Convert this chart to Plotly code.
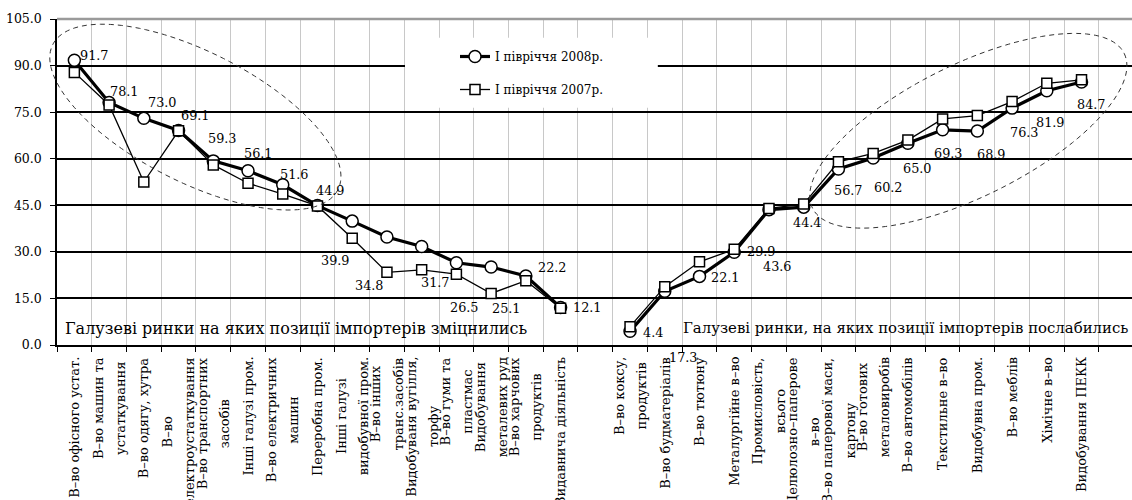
import numpy as np
import plotly.graph_objects as go

# ---------------- data ----------------
categories = [
    "В–во офісного устат.",
    "В–во машин та<br>устаткування",
    "В–во одягу, хутра",
    "В–во<br>електроустаткування",
    "В–во транспортних<br>засобів",
    "Інші галузі пром.",
    "В–во електричних<br>машин",
    "Переробна пром.",
    "Інші галузі<br>видобувної пром.",
    "В–во інших<br>транс.засобів",
    "Видобуваня вугілля,<br>торфу",
    "В–во гуми та<br>пластмас",
    "Видобування<br>металевих руд",
    "В–во харчових<br>продуктів",
    "Видавнича діяльність",
    "",
    "В–во коксу,<br>продуктів",
    "В–во будматеріалів",
    "В–во тютюну",
    "Металургійне в–во",
    "Промисловість,<br>всього",
    "Целюлозно–паперове<br>в–во",
    "В–во паперової маси,<br>картону",
    "В–во готових<br>металовиробів",
    "В–во автомобілів",
    "Текстильне в–во",
    "Видобувна пром.",
    "В–во меблів",
    "Хімічне в–во",
    "Видобування ПЕКК",
    "",
]

h1_2008 = [91.7, 78.1, 73.0, 69.1, 59.3, 56.1, 51.6, 44.9, 39.9, 34.8, 31.7, 26.5,
           25.1, 22.2, 12.1, None, 4.4, 17.3, 22.1, 29.9, 43.6, 44.4, 56.7, 60.2,
           65.0, 69.3, 68.9, 76.3, 81.9, 84.7, None]
h1_2007 = [87.8, 77.3, 52.5, 69.0, 58.0, 52.1, 48.6, 44.8, 34.4, 23.4, 24.2, 22.8,
           16.6, 20.7, 11.8, None, 5.9, 18.8, 26.8, 30.8, 44.0, 45.4, 59.0, 61.7,
           66.0, 72.8, 73.9, 78.4, 84.3, 85.4, None]

series_names = ["I півріччя 2008р.", "I півріччя 2007р."]
group_titles = ["Галузеві ринки на яких позиції імпортерів зміцнились",
                "Галузеві ринки, на яких позиції імпортерів послабились"]
y_ticks = [0, 15, 30, 45, 60, 75, 90, 105]

# ---------------- layout constants ----------------
W, H = 1132, 500
ML, MR, MT, MB = 57, 0, 19, 155
PW, PH = W - ML - MR, H - MT - MB
X_RANGE = [-0.5, -0.5 + PW / 34.73]
Y_RANGE = [0, 105]
FONT = "DejaVu Serif"

# label offsets (px) for the 2008 value labels: (right, down)
label_offsets = [(20, -5), (15, -11), (19, -16), (17, -15), (9, -22), (10, -17), (12, -10),
                 (13, -15), (-17, 39), (-17, 49), (14, 36), (8, 45), (15, 41), (27, -9),
                 (27, 0), None, (23, 1), (19, 66), (26, 1), (27, -1), (9, 57), (4, 15),
                 (10, 22), (15, 29), (10, 25), (6, 24), (14, 23), (12, 24), (4, 32),
                 (10, 22), None]

idx = list(range(len(categories)))

fig = go.Figure()
fig.add_trace(go.Scatter(
    x=idx, y=h1_2008, mode="lines+markers", name=series_names[0], legendgroup="a",
    line=dict(color="black", width=3.2),
    marker=dict(symbol="circle", size=12, color="white", line=dict(color="black", width=1.5)),
))
fig.add_trace(go.Scatter(
    x=idx, y=h1_2007, mode="lines+markers", name=series_names[1], legendgroup="b",
    line=dict(color="black", width=1.3),
    marker=dict(symbol="square", size=10, color="white", line=dict(color="black", width=1.5)),
))


def to_px(xv, yv):
    px = ML + (xv - X_RANGE[0]) / (X_RANGE[1] - X_RANGE[0]) * PW
    py = MT + PH - (yv - Y_RANGE[0]) / (Y_RANGE[1] - Y_RANGE[0]) * PH
    return px, py


def ellipse_path(cx, cy, a_px, b_px, ang_deg):
    cpx, cpy = to_px(cx, cy)
    t = np.linspace(0, 2 * np.pi, 140)
    ph = np.deg2rad(ang_deg)
    dx = a_px * np.cos(t) * np.cos(ph) - b_px * np.sin(t) * np.sin(ph)
    dy = a_px * np.cos(t) * np.sin(ph) + b_px * np.sin(t) * np.cos(ph)
    xs = (cpx + dx - ML) / PW
    ys = 1 - (cpy + dy - MT) / PH
    pts = [f"{x:.5f},{y:.5f}" for x, y in zip(xs, ys)]
    return "M" + " L".join(pts) + " Z"


shapes = [
    # white box behind the legend
    dict(type="rect", xref="x", yref="y", x0=9.52, x1=16.8, y0=76.4, y1=99.0,
         fillcolor="white", line=dict(width=0), layer="between"),
    # top border
    dict(type="line", xref="paper", yref="paper", x0=0, x1=1, y0=1, y1=1,
         line=dict(color="#9a9a9a", width=2.5), layer="above"),
    # dashed ellipses
    dict(type="path", xref="paper", yref="paper",
         path=ellipse_path(3.484, 73.4, 160, 65, 27),
         line=dict(color="#333333", width=1, dash="5px,4px")),
    dict(type="path", xref="paper", yref="paper",
         path=ellipse_path(25.74, 69.0, 174, 66, -26.4),
         line=dict(color="#333333", width=1, dash="5px,4px")),
]

annotations = []
# value labels (2008)
for i, v in enumerate(h1_2008):
    if v is None or label_offsets[i] is None:
        continue
    dx, dy = label_offsets[i]
    annotations.append(dict(
        x=i, y=v, xref="x", yref="y", text=f"{v:.1f}", showarrow=False,
        xshift=dx, yshift=-dy, xanchor="center", yanchor="middle",
        font=dict(family=FONT, size=12.8, color="black")))

# category labels (rotated, centered lines)
for i, c in enumerate(categories):
    if not c:
        continue
    lines = c.split("<br>")
    txt = "<br>".join(f"<span style='font-size:13px'>{ln}</span>" for ln in lines)
    annotations.append(dict(
        x=i, y=0, xref="x", yref="paper", text=txt, showarrow=False,
        textangle=-90, xanchor="center", yanchor="top", yshift=-10, align="center",
        font=dict(family=FONT, size=17, color="black")))

# group titles
annotations.append(dict(x=(63 - ML) / PW, y=(MT + PH - 328) / PH, xref="paper", yref="paper",
                        text=group_titles[0], showarrow=False, xanchor="left", yanchor="middle",
                        font=dict(family=FONT, size=16, color="black")))
annotations.append(dict(x=(681 - ML) / PW, y=(MT + PH - 328) / PH, xref="paper", yref="paper",
                        text=group_titles[1], showarrow=False, xanchor="left", yanchor="middle",
                        font=dict(family=FONT, size=14.9, color="black")))

fig.update_layout(
    width=W, height=H,
    margin=dict(l=ML, r=MR, t=MT, b=MB, pad=0),
    paper_bgcolor="white", plot_bgcolor="white",
    font=dict(family=FONT, size=12.5, color="black"),
    showlegend=True,
    legend=dict(x=(455 - ML) / PW, y=(MT + PH - 42) / PH, xanchor="left", yanchor="top",
                bgcolor="rgba(0,0,0,0)", traceorder="grouped", tracegroupgap=14,
                font=dict(family=FONT, size=12, color="black")),
    xaxis=dict(range=X_RANGE, tickmode="linear", tick0=-0.5, dtick=1, automargin=False,
               showticklabels=False, ticks="outside", ticklen=5, tickcolor="black",
               showgrid=True, gridcolor="#c8c8c8", gridwidth=1,
               showline=True, linecolor="black", linewidth=2, zeroline=False),
    yaxis=dict(range=Y_RANGE, tickmode="array", tickvals=y_ticks, tickformat=".1f",
               automargin=False,
               ticks="outside", ticklen=5, tickcolor="black", ticklabelstandoff=6,
               showgrid=True, gridcolor="black", gridwidth=1.6,
               showline=True, linecolor="black", linewidth=1.5, zeroline=False,
               tickfont=dict(family=FONT, size=12.5, color="black")),
    shapes=shapes,
    annotations=annotations,
)

fig.write_html("out.html", config={"displayModeBar": False},
               post_script="document.body.style.margin='0';document.body.style.padding='0';")
